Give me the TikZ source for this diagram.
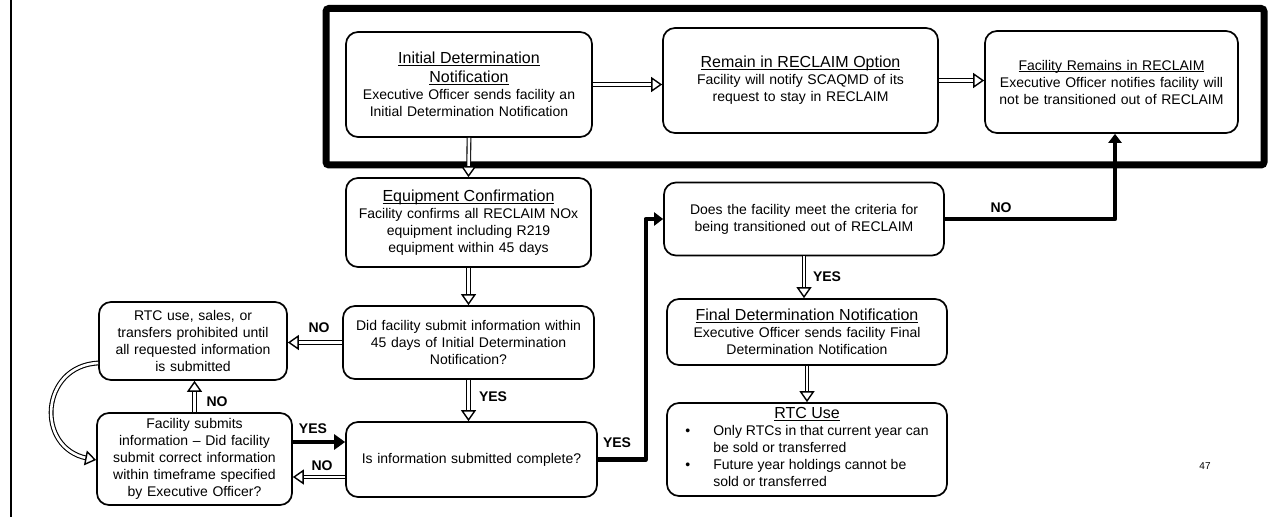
\documentclass[tikz,border=0pt]{standalone}
\usepackage{fontspec}
\setmainfont{Liberation Sans}
\usetikzlibrary{arrows.meta}
\newcommand\bodyf{\fontsize{14}{17}\selectfont}
\newcommand\titlef{\fontsize{16}{19}\selectfont}
\newcommand\ulx[1]{\setbox0=\hbox{#1}\leavevmode\rlap{\rule[-2.4pt]{\wd0}{1.1pt}}\box0}
\newcommand\darrow[1]{\draw[dshaft] #1; \draw[dhead] #1;}
\begin{document}
\begin{tikzpicture}[x=1pt,y=-1pt,
 box/.style={draw, line width=1.7pt, rounded corners=12pt, fill=white, align=center, font=\bodyf, inner sep=3pt},
 lbl/.style={font=\bfseries\fontsize{14}{16}\selectfont, inner sep=0pt},
 dshaft/.style={draw=black, line width=1.1pt, double=white, double distance=2.6pt, shorten >=9pt},
 dhead/.style={draw=white, line width=1pt, -{Triangle[color=black, fill=white, length=11pt, width=15pt, line width=1.4pt]}},
 thk/.style={line width=4.8pt, line join=round, -{Triangle[length=11pt, width=15pt]}},
 thkb/.style={line width=4.5pt, line join=round, -{Triangle[length=9pt, width=13pt]}},
]
\useasboundingbox (0,0) rectangle (1284,521);
\draw[line width=2.2pt] (11,0) -- (11,517);
\node[draw, line width=7pt, rounded corners=3pt, minimum width=938pt, minimum height=156.5pt, inner sep=0pt] (frame) at (795,86.75) {};

\node[box, minimum width=246pt, minimum height=105pt, text width=238pt] (init) at (469,84.5)
 {{\titlef\ulx{Initial Determination}\\\ulx{Notification}\par}Executive Officer sends facility an\\Initial Determination Notification};
\node[box, minimum width=275pt, minimum height=105pt, text width=265pt] (remain) at (800.5,80.5)
 {{\titlef\ulx{Remain in RECLAIM Option}\par}Facility will notify SCAQMD of its\\request to stay in RECLAIM};
\node[box, minimum width=253pt, minimum height=102pt, text width=245pt] (remains) at (1111.5,82)
 {\ulx{Facility Remains in RECLAIM}\\Executive Officer notifies facility will\\not be transitioned out of RECLAIM};
\node[box, minimum width=245pt, minimum height=89pt, text width=237pt] (equip) at (468.5,222.5)
 {{\titlef\ulx{Equipment Confirmation}\par}Facility confirms all RECLAIM NOx\\equipment including R219\\equipment within 45 days};
\node[box, minimum width=251pt, minimum height=73pt, text width=243pt] (did) at (468.5,342.5)
 {Did facility submit information within\\45 days of Initial Determination\\Notification?};
\node[box, minimum width=251pt, minimum height=75pt, text width=243pt] (isinfo) at (471.5,459.5)
 {Is information submitted complete?};
\node[box, minimum width=188pt, minimum height=78pt, text width=180pt] (prohib) at (193,341)
 {RTC use, sales, or\\transfers prohibited until\\all requested information\\is submitted};
\node[box, minimum width=195pt, minimum height=92pt, text width=187pt] (fsub) at (194.5,459)
 {Facility submits\\information – Did facility\\submit correct information\\within timeframe specified\\by Executive Officer?};
\node[box, minimum width=280pt, minimum height=73pt, text width=272pt] (does) at (804,219)
 {Does the facility meet the criteria for\\being transitioned out of RECLAIM};
\node[box, minimum width=280pt, minimum height=66pt, text width=272pt] (final) at (807,332)
 {{\titlef\ulx{Final Determination Notification}\par}Executive Officer sends facility Final\\Determination Notification};
\node[box, minimum width=280pt, minimum height=93pt] (rtcuse) at (807,449.5)
 {\begin{tabular}{@{}l@{\hspace{23pt}}l@{}}
  \multicolumn{2}{c}{\titlef\ulx{RTC Use}}\\
  •& Only RTCs in that current year can\\
   & be sold or transferred\\
  •& Future year holdings cannot be\\
   & sold or transferred
  \end{tabular}};

\darrow{(init.east) -- (init.east -| remain.west)}
\darrow{(remain.east) -- (remain.east -| remains.west)}
\darrow{(init.south) -- (equip.north)}
\darrow{(equip.south) -- (did.north)}
\darrow{(did.south) -- (did.south |- isinfo.north)}
\darrow{(did.west) -- (did.west -| prohib.east)}
\darrow{(fsub.north) -- (fsub.north |- prohib.south)}
\darrow{([yshift=-22pt]prohib.west) .. controls (40,366) and (35,448) .. ([yshift=-1pt]fsub.west)}
\darrow{([yshift=-17.5pt]isinfo.west) -- ([yshift=-17.5pt]isinfo.west -| fsub.east)}
\darrow{(does.south) -- (does.south |- final.north)}
\darrow{(final.south) -- (final.south |- rtcuse.north)}

\draw[thk] ([yshift=17pt]fsub.east) -- ([yshift=17pt]fsub.east -| isinfo.west);
\draw[thkb] (isinfo.east) -- ++(48,0) |- (does.west);
\draw[thkb] (does.east) -| ([xshift=3.5pt]remains.south);

\node[lbl] (yes1) at (493,397) {YES};
\node[lbl] (no1) at (319,328) {NO};
\node[lbl] (no2) at (217,402) {NO};
\node[lbl] (yes2) at (313,429) {YES};
\node[lbl] (no3) at (322,466) {NO};
\node[lbl] (yes3) at (617,443) {YES};
\node[lbl] (no4) at (1001,208) {NO};
\node[lbl] (yes4) at (827,277) {YES};
\node[font=\fontsize{10}{12}\selectfont, inner sep=0pt] (pg) at (1205,466) {47};
\end{tikzpicture}
\end{document}
